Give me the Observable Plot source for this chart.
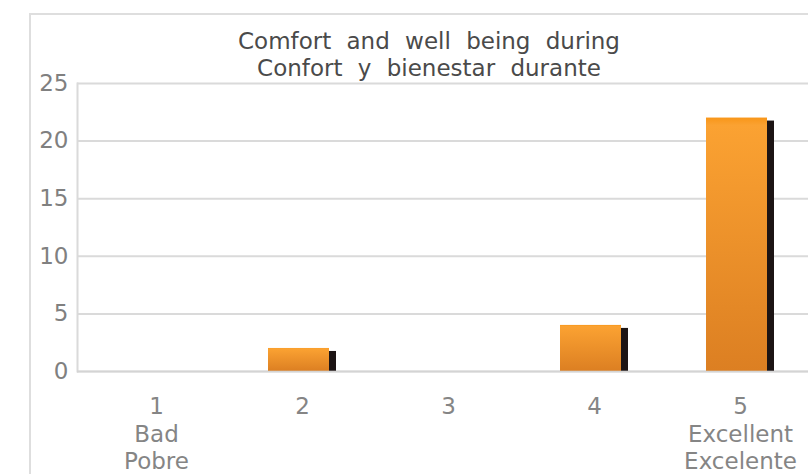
<!DOCTYPE html>
<html><head><meta charset="utf-8">
<script src="https://cdn.jsdelivr.net/npm/d3@7"></script>
<script src="https://cdn.jsdelivr.net/npm/@observablehq/plot@0.6"></script>
<style>
body{margin:0;background:#fff;}
#wrap{position:relative;width:808px;height:474px;overflow:hidden;font-family:"DejaVu Sans",sans-serif;}
#frame{position:absolute;left:29px;top:13px;width:900px;height:600px;border-left:2px solid #dedede;border-top:2px solid #dedede;}
#title{position:absolute;left:0;top:28px;width:858px;text-align:center;font-size:23px;line-height:26.5px;word-spacing:8px;color:#4a4a4a;}
#chart{position:absolute;left:0;top:0;}
</style></head>
<body>
<div id="wrap"><div id="frame"></div><div id="chart"></div><div id="title"></div></div>
<script>
const categories = [1, 2, 3, 4, 5];
const counts = [0, 2, 0, 4, 22];
const tickLabels = ["1\nBad\nPobre", "2", "3", "4", "5\nExcellent\nExcelente"];
const yTicks = [0, 5, 10, 15, 20, 25];
const titleLines = ["Comfort and well being during", "Confort y bienestar durante"];

const data = categories.map((c, i) => ({cat: c, count: counts[i], label: tickLabels[i]}));

document.getElementById("title").innerHTML = titleLines.join("<br>");

const defs = () => {
  const d = d3.create("svg:defs");
  const g = d.append("linearGradient").attr("id", "barGrad")
    .attr("x1", 0).attr("y1", 0).attr("x2", 0).attr("y2", 1);
  g.append("stop").attr("offset", "0%").attr("stop-color", "#f89618");
  g.append("stop").attr("offset", "3%").attr("stop-color", "#fba232");
  g.append("stop").attr("offset", "100%").attr("stop-color", "#dc7f22");
  return d.node();
};

const chart = Plot.plot({
  width: 808, height: 474,
  marginLeft: 77, marginRight: 0, marginTop: 83, marginBottom: 103,
  x: {type: "band", domain: categories, range: [82, 813], padding: 0, axis: null},
  y: {domain: [0, 25], axis: null},
  style: {fontFamily: "DejaVu Sans", background: "transparent"},
  marks: [
    defs,
    Plot.ruleY(yTicks, {stroke: "#dadada", strokeWidth: 2}),
    Plot.frame({anchor: "left", stroke: "#dadada", strokeWidth: 2}),
    Plot.barY(data, {x: "cat", y: "count", fill: "#1c1414", insetLeft: 46, insetRight: 39, insetTop: 3}),
    Plot.barY(data, {x: "cat", y: "count", fill: "url(#barGrad)", insetLeft: 39, insetRight: 46}),
    Plot.ruleY([0], {stroke: "#d0d0d0", strokeOpacity: 0.6, strokeWidth: 2}),
    Plot.text(yTicks, {y: d => d, text: d => String(d), frameAnchor: "left", textAnchor: "end", dx: -9, fontSize: 23, fill: "#808080"}),
    Plot.text(data, {x: "cat", y: d => 0, text: "label", lineAnchor: "top", dy: 23, fontSize: 23, lineHeight: 1.2, fill: "#858585"})
  ]
});
document.getElementById("chart").appendChild(chart);
</script>
</body></html>
